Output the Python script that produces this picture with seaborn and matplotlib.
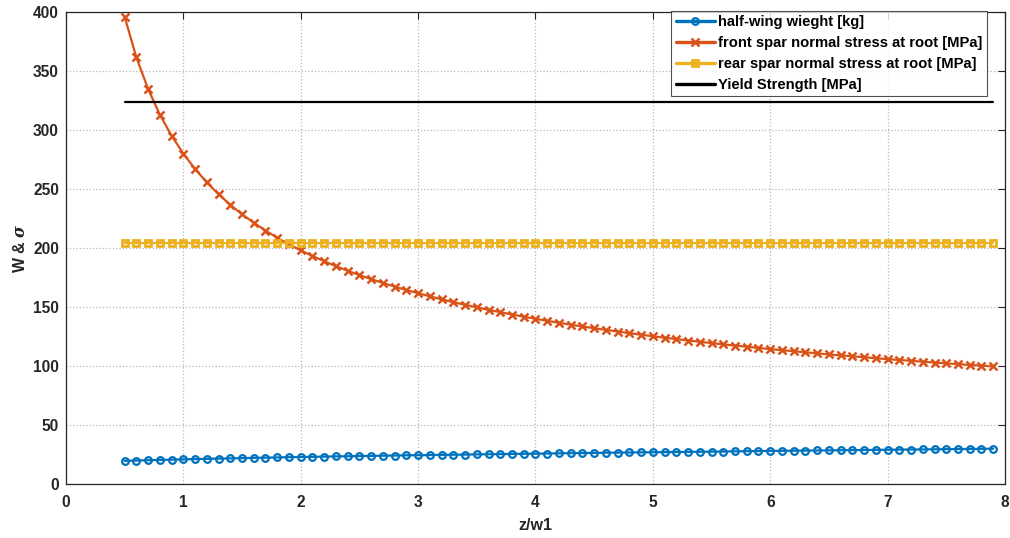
import numpy as np
import pandas as pd
import matplotlib
matplotlib.use("Agg")
import matplotlib.pyplot as plt
import seaborn as sns

z_w1 = [0.5, 0.6, 0.7, 0.8, 0.9, 1.0, 1.1, 1.2, 1.3, 1.4, 1.5, 1.6, 1.7, 1.8, 1.9,
        2.0, 2.1, 2.2, 2.3, 2.4, 2.5, 2.6, 2.7, 2.8, 2.9, 3.0, 3.1, 3.2, 3.3, 3.4,
        3.5, 3.6, 3.7, 3.8, 3.9, 4.0, 4.1, 4.2, 4.3, 4.4, 4.5, 4.6, 4.7, 4.8, 4.9,
        5.0, 5.1, 5.2, 5.3, 5.4, 5.5, 5.6, 5.7, 5.8, 5.9, 6.0, 6.1, 6.2, 6.3, 6.4,
        6.5, 6.6, 6.7, 6.8, 6.9, 7.0, 7.1, 7.2, 7.3, 7.4, 7.5, 7.6, 7.7, 7.8, 7.9]

half_wing_weight = [19.6, 19.9, 20.1, 20.4, 20.6, 20.9, 21.1, 21.3, 21.5, 21.7,
                    21.9, 22.1, 22.3, 22.5, 22.7, 22.9, 23.0, 23.2, 23.4, 23.5,
                    23.7, 23.8, 24.0, 24.1, 24.3, 24.4, 24.5, 24.7, 24.8, 24.9,
                    25.1, 25.2, 25.3, 25.5, 25.6, 25.7, 25.8, 26.0, 26.1, 26.2,
                    26.3, 26.5, 26.6, 26.7, 26.8, 26.9, 27.0, 27.1, 27.2, 27.3,
                    27.4, 27.5, 27.7, 27.8, 27.9, 28.0, 28.1, 28.2, 28.3, 28.4,
                    28.5, 28.6, 28.7, 28.8, 28.9, 29.0, 29.1, 29.2, 29.3, 29.4,
                    29.5, 29.6, 29.7, 29.8, 29.9]

front_spar_stress = [396.0, 361.5, 334.7, 313.0, 295.1, 280.0, 267.0, 255.6, 245.6, 236.6,
                     228.6, 221.4, 214.8, 208.7, 203.1, 198.0, 193.2, 188.8, 184.6, 180.7,
                     177.1, 173.6, 170.4, 167.3, 164.4, 161.7, 159.0, 156.5, 154.1, 151.9,
                     149.7, 147.6, 145.6, 143.6, 141.8, 140.0, 138.3, 136.6, 135.0, 133.5,
                     132.0, 130.6, 129.2, 127.8, 126.5, 125.2, 124.0, 122.8, 121.6, 120.5,
                     119.4, 118.3, 117.3, 116.3, 115.3, 114.3, 113.4, 112.5, 111.6, 110.7,
                     109.8, 109.0, 108.2, 107.4, 106.6, 105.8, 105.1, 104.4, 103.6, 102.9,
                     102.2, 101.6, 100.9, 100.3, 99.6]

rear_spar_stress_value = 204.5
yield_strength_value = 324.0

series_labels = ["half-wing wieght [kg]",
                 "front spar normal stress at root [MPa]",
                 "rear spar normal stress at root [MPa]",
                 "Yield Strength [MPa]"]

n = len(z_w1)
df = pd.DataFrame({
    "z": z_w1 * 4,
    "value": half_wing_weight + front_spar_stress
             + [rear_spar_stress_value] * n + [yield_strength_value] * n,
    "series": sum([[lab] * n for lab in series_labels], []),
})

sns.set_style("white")
plt.rcParams["font.family"] = ["Liberation Sans", "DejaVu Sans"]
plt.rcParams["font.weight"] = "bold"
plt.rcParams["mathtext.fontset"] = "dejavuserif"

colors = ["#0072BD", "#D95319", "#EDB120", "#000000"]
markers = ["o", "x", "s", None]
msizes = {"o": 4.8, "x": 5.6, "s": 4.4}
mews = {"o": 1.6, "x": 1.8, "s": 2.0}

fig = plt.figure(figsize=(10.10, 5.38), dpi=100)
ax = fig.add_axes([0.0653, 0.1004, 0.9297, 0.8773])

for lab, col, mk in zip(series_labels, colors, markers):
    sub = df[df["series"] == lab]
    kw = dict(color=col, linewidth=1.6)
    if mk is not None:
        kw.update(marker=mk, markersize=msizes[mk], markerfacecolor="none",
                  markeredgecolor=col, markeredgewidth=mews[mk])
    sns.lineplot(data=sub, x="z", y="value", ax=ax, label=lab,
                 estimator=None, sort=False, **kw)

ax.set_xlim(0, 8)
ax.set_ylim(0, 400)
ax.set_xticks(range(0, 9))
ax.set_yticks(range(0, 401, 50))
ax.grid(True, linestyle=":", color="#b8b8b8", linewidth=0.9)
ax.tick_params(axis="both", direction="in", top=True, right=True, length=5, width=0.8,
               labelsize=11.2, colors="#262626", labelcolor="#262626")
ax.tick_params(axis="x", pad=8)
ax.tick_params(axis="y", pad=5)
for lbl in ax.get_xticklabels() + ax.get_yticklabels():
    lbl.set_fontweight("bold")
for sp in ax.spines.values():
    sp.set_color("#262626")
    sp.set_linewidth(0.9)

ax.set_xlabel("z/w1", fontsize=11.5, fontweight="bold", color="#262626", labelpad=6)
ax.set_ylabel(r"W & $\sigma$", fontsize=11.5, fontweight="bold", color="#262626", labelpad=4)

leg = ax.legend(loc="upper right", bbox_to_anchor=(0.981, 1.003), fontsize=10.6,
                frameon=True, fancybox=False, borderpad=0.3, labelspacing=0.47,
                handlelength=2.7, handletextpad=0.2, borderaxespad=0.0)
leg.get_frame().set_edgecolor("#262626")
leg.get_frame().set_linewidth(0.8)
for line in leg.get_lines():
    line.set_linewidth(2.4)
for t in leg.get_texts():
    t.set_fontweight("bold")
    t.set_color("black")

fig.savefig("out.png", dpi=100)
